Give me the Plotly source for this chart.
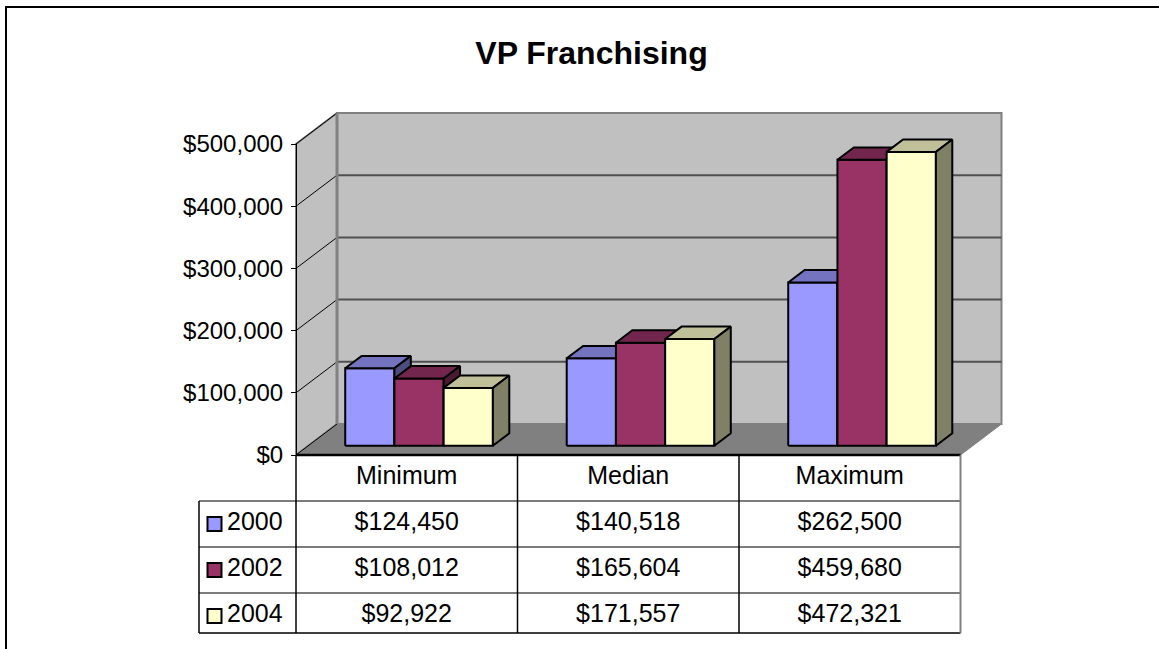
import plotly.graph_objects as go

# ---------------- data ----------------
categories = ["Minimum", "Median", "Maximum"]
years = ["2000", "2002", "2004"]
values_2000 = [124450, 140518, 262500]
values_2002 = [108012, 165604, 459680]
values_2004 = [92922, 171557, 472321]
y_ticks = [0, 100000, 200000, 300000, 400000, 500000]
title_text = "VP Franchising"

series = [values_2000, values_2002, values_2004]
front_colors = ["#9999FF", "#993366", "#FFFFCC"]
top_colors = ["#7373BF", "#73264D", "#BFBF99"]
side_colors = ["#4D4D80", "#4D1A33", "#808066"]

# ---------------- geometry (style) ----------------
FIG_W, FIG_H = 1159, 649
CAT_PX = 221.5          # pixels per category
X0_PX = 296             # pixel of category edge 0 (front plane)
Y0_PX = 455             # pixel of value 0 (front plane)
Y_TOP_PX = 144          # pixel of value 500,000 (front plane)
VMAX = y_ticks[-1]
V_SCALE = (Y0_PX - Y_TOP_PX) / VMAX   # px per $
DEPTH_X = 41 / CAT_PX                 # depth offset in category units
DEPTH_V = 31 / V_SCALE                # depth offset in $ units
GAP = 1.5                             # gap width (in bar widths)
BAR_W = 1 / (len(series) + GAP)
F0, F1 = 0.3, 0.7                     # bar depth span

FONT = "Liberation Sans, Arial, sans-serif"
FS = 24
FS_TABLE = 25


def P(x, v, f):
    return x + f * DEPTH_X, v + f * DEPTH_V


traces = []


def poly(pts, fill, line_color="black", width=1.5, yaxis="y"):
    xs = [p[0] for p in pts] + [pts[0][0]]
    ys = [p[1] for p in pts] + [pts[0][1]]
    traces.append(go.Scatter(x=xs, y=ys, mode="lines", fill="toself",
                             fillcolor=fill, line=dict(color=line_color, width=width),
                             hoverinfo="skip", yaxis=yaxis))


def line(pts, color="black", width=1, yaxis="y"):
    traces.append(go.Scatter(x=[p[0] for p in pts], y=[p[1] for p in pts],
                             mode="lines", line=dict(color=color, width=width),
                             hoverinfo="skip", yaxis=yaxis))


n = len(categories)
# walls and floor
poly([P(0, 0, 1), P(n, 0, 1), P(n, VMAX, 1), P(0, VMAX, 1)], "#C0C0C0", "#808080", 2)
poly([P(0, 0, 0), P(0, 0, 1), P(0, VMAX, 1), P(0, VMAX, 0)], "#C0C0C0", "#808080", 2)
poly([P(0, 0, 0), P(n, 0, 0), P(n, 0, 1), P(0, 0, 1)], "#808080", "#808080", 1)
# gridlines
for t in y_ticks[1:-1]:
    line([P(0, t, 1), P(n, t, 1)], "#505050", 2)
for t in y_ticks:
    line([P(0, t, 0), P(0, t, 1)], "black", 1)
line([P(0, 0, 1), P(0, VMAX, 1)], "#808080", 3)

# bars
for ci in range(n):
    g0 = ci + (1 - BAR_W * len(series)) / 2
    for si, vals in enumerate(series):
        v = vals[ci]
        xl = g0 + si * BAR_W
        xr = xl + BAR_W
        poly([P(xl, 0, F0), P(xr, 0, F0), P(xr, v, F0), P(xl, v, F0)], front_colors[si], "black", 2)
        poly([P(xl, v, F0), P(xr, v, F0), P(xr, v, F1), P(xl, v, F1)], top_colors[si], "black", 2)
        poly([P(xr, 0, F0), P(xr, 0, F1), P(xr, v, F1), P(xr, v, F0)], side_colors[si], "black", 2)

# floor front edge
line([P(0, 0, 0), P(n, 0, 0)], "black", 2.5)

# ---------------- data table (on y3: row units) ----------------
LEG_X = -97 / CAT_PX
ROW_BOTTOM = 3.87
for r in [1, 2, 3]:
    line([(LEG_X, r), (n, r)], "#505050", 1.5, "y3")
line([(LEG_X, ROW_BOTTOM), (n, ROW_BOTTOM)], "black", 1.5, "y3")
line([(LEG_X, 1), (LEG_X, ROW_BOTTOM)], "black", 1.5, "y3")
for c in range(n):
    line([(c, 0), (c, ROW_BOTTOM)], "black", 1.5, "y3")
line([(n, 0), (n, ROW_BOTTOM)], "#808080", 2, "y3")

traces.append(go.Scatter(x=[c + 0.5 for c in range(n)], y=[0.5] * n, mode="text",
                         text=categories, textposition="middle center",
                         textfont=dict(family=FONT, size=FS_TABLE, color="black"),
                         hoverinfo="skip", yaxis="y3"))
for si, vals in enumerate(series):
    traces.append(go.Scatter(x=[c + 0.5 for c in range(n)], y=[si + 1.5] * n, mode="text",
                             text=[f"${v:,}" for v in vals], textposition="middle center",
                             textfont=dict(family=FONT, size=FS_TABLE, color="black"),
                             hoverinfo="skip", yaxis="y3"))
traces.append(go.Scatter(x=[-81.5 / CAT_PX] * 3, y=[r + 1.5 for r in range(3)], mode="markers",
                         marker=dict(symbol="square", size=14, color=front_colors,
                                     line=dict(color="black", width=2)),
                         hoverinfo="skip", yaxis="y3"))
traces.append(go.Scatter(x=[-69 / CAT_PX] * 3, y=[r + 1.5 for r in range(3)], mode="text",
                         text=years, textposition="middle right",
                         textfont=dict(family=FONT, size=FS_TABLE, color="black"),
                         hoverinfo="skip", yaxis="y3"))

# dummy for value axis
traces.append(go.Scatter(x=[0], y=[0], mode="markers", marker=dict(opacity=0),
                         hoverinfo="skip", yaxis="y2"))

fig = go.Figure(traces)
fig.update_layout(
    width=FIG_W, height=FIG_H,
    margin=dict(l=0, r=0, t=0, b=0, pad=0, autoexpand=False),
    paper_bgcolor="white", plot_bgcolor="rgba(0,0,0,0)",
    showlegend=False,
    title=dict(text=f"<b>{title_text}</b>", x=591.5 / FIG_W, xanchor="center",
               y=1 - 53 / FIG_H, yanchor="middle", automargin=False,
               font=dict(family=FONT, size=32, color="black")),
    xaxis=dict(range=[-X0_PX / CAT_PX, (FIG_W - X0_PX) / CAT_PX], visible=False,
               fixedrange=True, domain=[0, 1], automargin=False),
    yaxis=dict(range=[(Y0_PX - FIG_H) / V_SCALE, Y0_PX / V_SCALE], visible=False,
               fixedrange=True, domain=[0, 1], automargin=False),
    yaxis2=dict(domain=[(FIG_H - Y0_PX) / FIG_H, (FIG_H - Y_TOP_PX) / FIG_H],
                range=[0, VMAX], anchor="free", position=X0_PX / FIG_W,
                showgrid=False, zeroline=False, showline=True, linecolor="black",
                linewidth=1, ticks="outside", ticklen=5, tickcolor="black",
                tickmode="array", tickvals=y_ticks,
                ticktext=[f"${t:,}" for t in y_ticks],
                tickfont=dict(family=FONT, size=FS, color="black"),
                ticklabelstandoff=3, fixedrange=True, automargin=False),
    yaxis3=dict(domain=[(FIG_H - (Y0_PX + 4 * 46)) / FIG_H, (FIG_H - Y0_PX) / FIG_H],
                range=[4, 0], visible=False, fixedrange=True, anchor="x", automargin=False),
    shapes=[dict(type="rect", xref="paper", yref="paper",
                 x0=6 / FIG_W, x1=1.02, y0=-0.02, y1=1 - 7 / FIG_H,
                 line=dict(color="black", width=2), layer="above")],
)

fig.write_html("out.html", config={"displayModeBar": False},
               post_script="document.body.style.margin='0';")
